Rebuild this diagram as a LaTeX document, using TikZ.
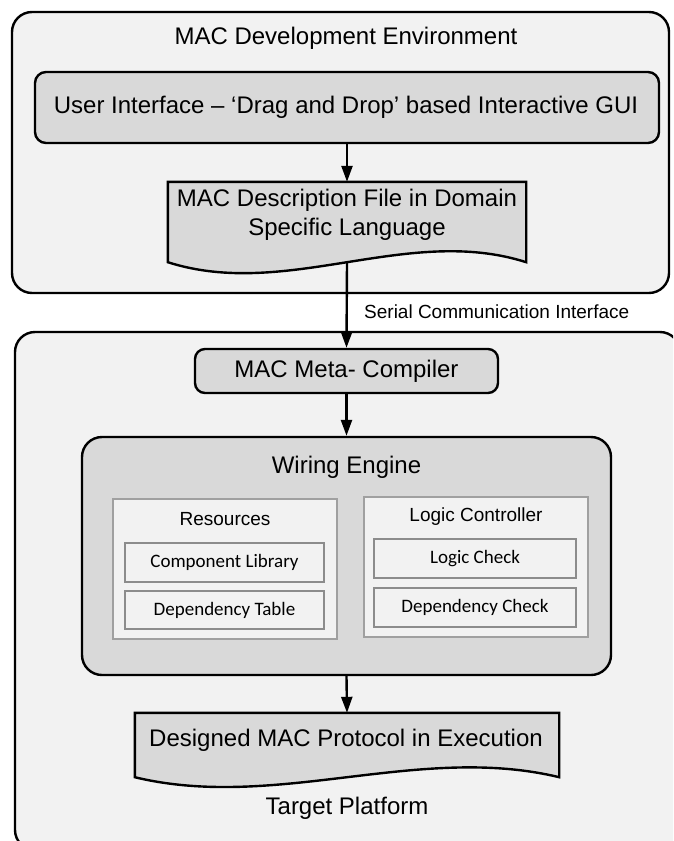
\documentclass[tikz,border=0pt]{standalone}
\usepackage{fontspec}
\setmainfont{Liberation Sans}
\newfontfamily\calfont{Carlito}
\usetikzlibrary{arrows.meta,shadows}
\definecolor{outerfill}{HTML}{F2F2F2}
\definecolor{innerfill}{HTML}{D9D9D9}
\definecolor{subline}{HTML}{8C8C8C}
\definecolor{grpline}{HTML}{A0A0A0}
\begin{document}
\begin{tikzpicture}[x=1pt,y=-1pt,
  container/.style={draw=black,line width=2.4pt,fill=outerfill,rounded corners=20pt,inner sep=0pt},
  graybox/.style={draw=black,line width=2.4pt,fill=innerfill,rounded corners=11pt,inner sep=0pt},
  docshape/.style={draw=none,inner sep=0pt},
  docpath/.style={draw=black,line width=2.4pt,fill=innerfill},
  group/.style={draw=grpline,line width=1.3pt,fill=outerfill,inner sep=0pt},
  subbox/.style={draw=subline,line width=1.3pt,fill=outerfill,inner sep=0pt,
     drop shadow={opacity=0.25,shadow xshift=1.2pt,shadow yshift=-1.2pt}},
  bigtxt/.style={font=\fontsize{24}{29}\selectfont,inner sep=0pt,align=center},
  midtxt/.style={font=\fontsize{19}{23}\selectfont,inner sep=0pt},
  caltxt/.style={font=\calfont\fontsize{19}{23}\selectfont,inner sep=0pt},
  arr/.style={line width=2.4pt,-{Triangle[length=16pt,width=11pt]}}
]
\useasboundingbox (0,0) rectangle (673,841);
\clip (0,0) rectangle (673,841);

% top container
\node[container,minimum width=657pt,minimum height=281pt] (dev) at (340.5,152.5) {};
\node[bigtxt] (devtitle) at (346,38) {MAC Development Environment};
\node[graybox,minimum width=624pt,minimum height=71pt] (ui) at (347,107.5) {};
\node[bigtxt] (uitxt) at (346,107.5) {User Interface -- ‘Drag and Drop’ based Interactive GUI};

% document shape 1
\node[docshape,minimum width=358pt,minimum height=80pt] (doc1) at (347,222) {};
\path[docpath] (doc1.south east) -- (doc1.north east) -- (doc1.north west) -- (doc1.south west)
  .. controls +(119,38) and +(-119,-38) .. (doc1.south east) -- cycle;
\node[bigtxt] (doc1txt) at (347,214.5) {MAC Description File in Domain\\Specific Language};

% bottom container
\node[container,minimum width=665pt,minimum height=518pt] (tp) at (347.5,591) {};
\node[bigtxt] (tptitle) at (347,808) {Target Platform};

\node[graybox,rounded corners=10pt,minimum width=303pt,minimum height=44pt] (meta) at (346.5,371) {};
\node[bigtxt] (metatxt) at (346.5,371) {MAC Meta- Compiler};

\node[graybox,rounded corners=20pt,minimum width=529pt,minimum height=238pt] (wire) at (346.5,556) {};
\node[bigtxt] (wiretxt) at (346.5,467) {Wiring Engine};

\node[group,minimum width=224pt,minimum height=140pt] (res) at (225,569) {};
\node[midtxt] (restxt) at (225,519) {Resources};
\node[subbox,minimum width=199pt,minimum height=39pt] (comp) at (224.5,562.5) {};
\node[caltxt] (comptxt) at (224.5,562.5) {Component Library};
\node[subbox,minimum width=199pt,minimum height=38pt] (dept) at (224.5,610) {};
\node[caltxt] (depttxt) at (224.5,610) {Dependency Table};

\node[group,minimum width=224pt,minimum height=140pt] (lc) at (476,567) {};
\node[midtxt] (lctxt) at (476,517) {Logic Controller};
\node[subbox,minimum width=202pt,minimum height=39pt] (lchk) at (475,558.5) {};
\node[caltxt] (lchktxt) at (475,558.5) {Logic Check};
\node[subbox,minimum width=202pt,minimum height=39pt] (dchk) at (475,607.5) {};
\node[caltxt] (dchktxt) at (475,607.5) {Dependency Check};

% document shape 2
\node[docshape,minimum width=424pt,minimum height=64pt] (exe) at (347,745) {};
\path[docpath] (exe.south east) -- (exe.north east) -- (exe.north west) -- (exe.south west)
  .. controls +(141,34) and +(-141,-34) .. (exe.south east) -- cycle;
\node[bigtxt] (exetxt) at (346,740) {Designed MAC Protocol in Execution};

% connectors
\draw[arr] (ui.south) -- (doc1.north);
\draw[arr] (doc1.south) -- (meta.north);
\node[midtxt,anchor=west] (serial) at (364,312) {Serial Communication Interface};
\draw[arr] (meta.south) -- (wire.north);
\draw[arr] (wire.south) -- (exe.north);
\end{tikzpicture}
\end{document}
